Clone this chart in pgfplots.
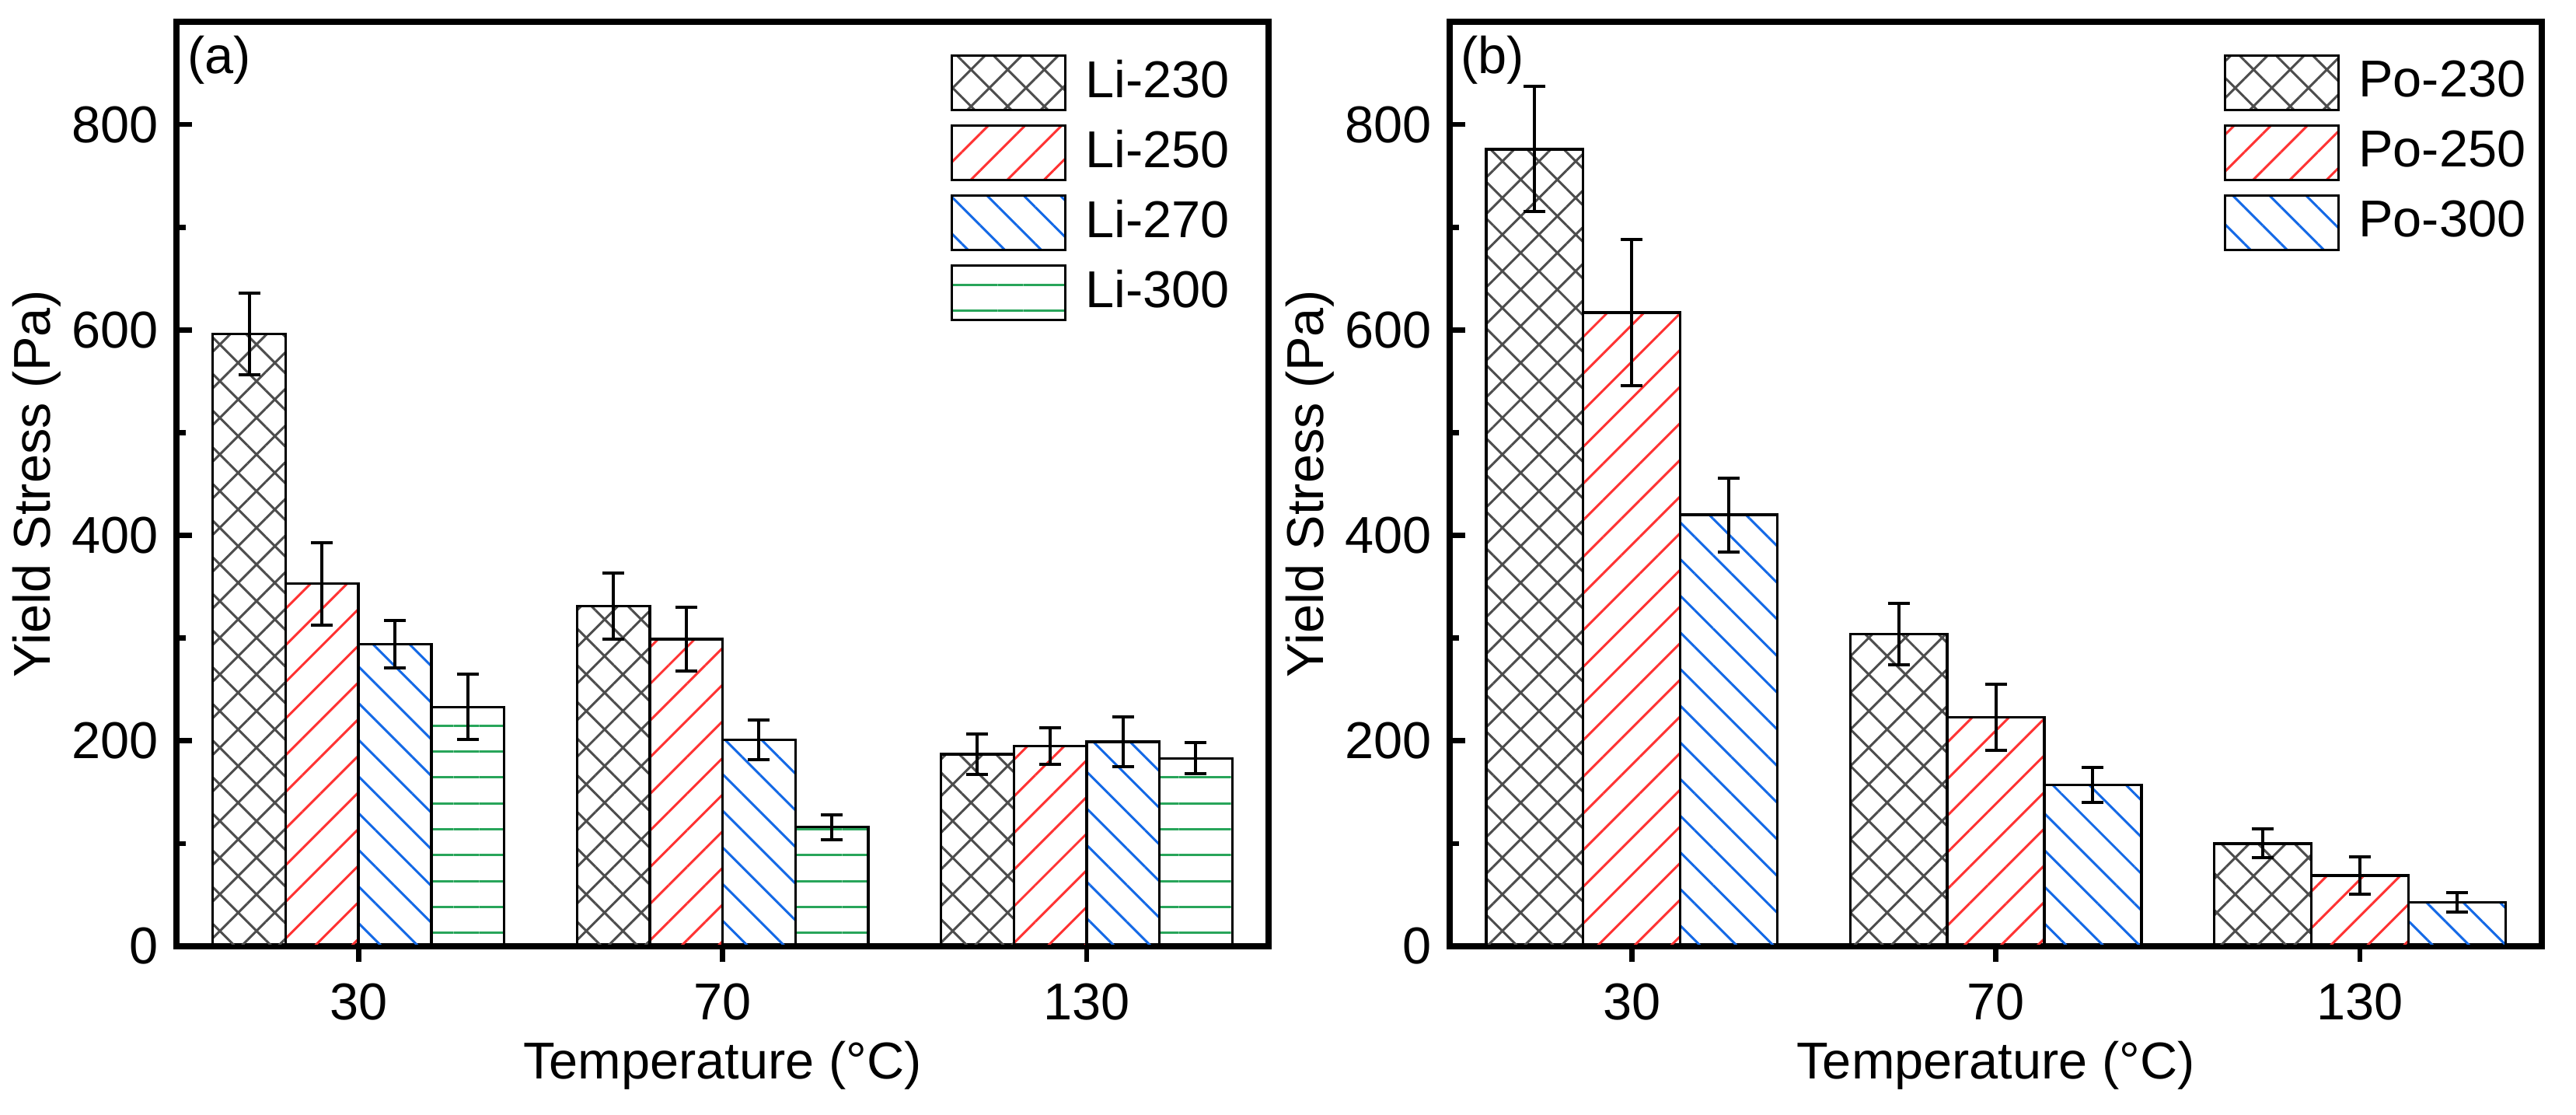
\documentclass[border=0pt]{standalone}
\usepackage{fontspec}
\setmainfont{Liberation Sans}
\usepackage{pgfplots}
\pgfplotsset{compat=1.18}
\usetikzlibrary{patterns.meta}

\definecolor{hatchgray}{RGB}{77,77,77}
\definecolor{hatchred}{RGB}{255,51,51}
\definecolor{hatchblue}{RGB}{20,105,230}
\definecolor{hatchgreen}{RGB}{40,165,90}

\pgfplotsset{
  panel/.style={
    scale only axis, width=210.75pt, height=178.35pt,
    xmin=-0.5, xmax=2.5, ymin=0, ymax=900,
    xtick={0,1,2}, xticklabels={30,70,130},
    ytick={0,200,400,600,800}, minor ytick={100,300,500,700},
    tick pos=left, tick align=inside,
    major tick length=3pt, minor tick length=1.8pt,
    tick style={black, line width=1pt},
    axis line style={line width=1.2pt},
    /pgf/number format/assume math mode=true,
    xticklabel style={yshift=-0.6pt},
    ybar=0pt,
    xlabel={Temperature (°C)}, ylabel={Yield Stress (Pa)},
    every axis x label/.style={at={(axis description cs:0.5,0)}, yshift=-25.6pt, anchor=base},
    every axis y label/.style={at={(axis description cs:0,0.5)}, xshift=-27pt, rotate=90, anchor=center},
    legend style={draw=none, fill=none, at={(axis description cs:0.708,0.966)},
      anchor=north west, inner sep=0pt, row sep=2.5pt,
      nodes={inner ysep=0.5pt, inner xsep=3.6pt}},
    legend cell align=left,
    legend image code/.code={\draw[##1,/tikz/.cd] (0pt,-5.25pt) rectangle (21.9pt,5.25pt);},
    every axis plot/.append style={draw=black, line width=0.5pt},
  },
  eb/.style={error bars/.cd, y dir=both, y explicit,
    error bar style={black, line width=0.6pt},
    error mark options={black, rotate=90, mark size=2.1pt, line width=0.6pt}},
}

\begin{document}
\begin{tikzpicture}
\useasboundingbox (-34.05pt,-32.4pt) rectangle (463.05pt,182.55pt);

% (a) Li samples
\begin{axis}[panel, at={(0pt,0pt)}, anchor=south west, bar width=0.2]
\addplot[pattern={Hatch[angle=45,distance=5pt,line width=0.45pt]}, pattern color=hatchgray, eb]
  coordinates {(0,596) +- (0,40) (1,331) +- (0,32) (2,187) +- (0,20)};
\addlegendentry{Li-230}
\addplot[pattern={Lines[angle=45,distance=5pt,line width=0.45pt]}, pattern color=hatchred, eb]
  coordinates {(0,353) +- (0,40) (1,299) +- (0,31) (2,195) +- (0,18)};
\addlegendentry{Li-250}
\addplot[pattern={Lines[angle=-45,distance=5pt,line width=0.45pt]}, pattern color=hatchblue, eb]
  coordinates {(0,294) +- (0,23) (1,201) +- (0,19) (2,199) +- (0,24)};
\addlegendentry{Li-270}
\addplot[pattern={Lines[angle=0,distance=5pt,line width=0.45pt]}, pattern color=hatchgreen, eb]
  coordinates {(0,233) +- (0,32) (1,116) +- (0,12) (2,183) +- (0,15)};
\addlegendentry{Li-300}
\node[anchor=north west, inner sep=0pt, xshift=2pt, yshift=-2.6pt] at (rel axis cs:0,1) {(a)};
\end{axis}

% (b) Po samples
\begin{axis}[panel, at={(245.7pt,0pt)}, anchor=south west, bar width=0.2667]
\addplot[pattern={Hatch[angle=45,distance=5pt,line width=0.45pt]}, pattern color=hatchgray, eb]
  coordinates {(0,776) +- (0,61) (1,304) +- (0,30) (2,100) +- (0,14)};
\addlegendentry{Po-230}
\addplot[pattern={Lines[angle=45,distance=5pt,line width=0.45pt]}, pattern color=hatchred, eb]
  coordinates {(0,617) +- (0,71) (1,223) +- (0,32) (2,69) +- (0,18)};
\addlegendentry{Po-250}
\addplot[pattern={Lines[angle=-45,distance=5pt,line width=0.45pt]}, pattern color=hatchblue, eb]
  coordinates {(0,420) +- (0,36) (1,157) +- (0,17) (2,43) +- (0,9.5)};
\addlegendentry{Po-300}
\node[anchor=north west, inner sep=0pt, xshift=2pt, yshift=-2.6pt] at (rel axis cs:0,1) {(b)};
\end{axis}
\end{tikzpicture}
\end{document}
